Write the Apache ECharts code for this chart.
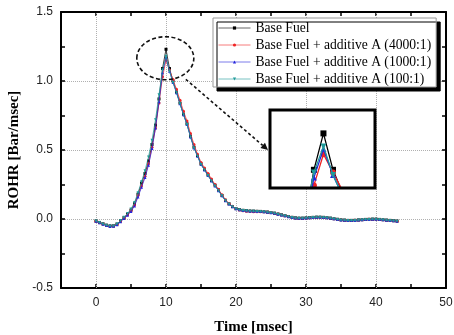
<!DOCTYPE html>
<html>
<head>
<meta charset="utf-8">
<script src="https://cdn.jsdelivr.net/npm/echarts@6.0.0/dist/echarts.min.js"></script>
<style>
  html, body { margin: 0; padding: 0; background: #fff; }
  #chart { width: 454px; height: 335px; }
</style>
</head>
<body>
<div id="chart"></div>
<script>
// time axis [msec]
const time = [
  0, 0.5, 1, 1.5, 2, 2.5, 3, 3.5, 4, 4.5, 5, 5.5, 6, 6.5, 7, 7.5, 8, 8.5, 9, 9.5,
  10, 10.5, 11, 11.5, 12, 12.5, 13, 13.5, 14, 14.5, 15, 15.5, 16, 16.5, 17, 17.5, 18, 18.5, 19, 19.5,
  20, 20.5, 21, 21.5, 22, 22.5, 23, 23.5, 24, 24.5, 25, 25.5, 26, 26.5, 27, 27.5, 28, 28.5, 29, 29.5,
  30, 30.5, 31, 31.5, 32, 32.5, 33, 33.5, 34, 34.5, 35, 35.5, 36, 36.5, 37, 37.5, 38, 38.5, 39, 39.5,
  40, 40.5, 41, 41.5, 42, 42.5, 43
]

// ROHR [Bar/msec]
const baseFuel = [
  -0.015, -0.025, -0.035, -0.045, -0.05, -0.05, -0.037, -0.014, 0.01, 0.035, 0.065, 0.11, 0.18, 0.26, 0.33, 0.42, 0.54, 0.68, 0.87, 1.09,
  1.23, 1.09, 1.0, 0.92, 0.84, 0.76, 0.69, 0.60, 0.52, 0.46, 0.40, 0.36, 0.32, 0.28, 0.245, 0.21, 0.17, 0.135, 0.11, 0.09,
  0.075, 0.068, 0.063, 0.06, 0.058, 0.057, 0.056, 0.055, 0.053, 0.05, 0.047, 0.042, 0.036, 0.03, 0.024, 0.018, 0.012, 0.008, 0.006, 0.006,
  0.008, 0.01, 0.012, 0.013, 0.013, 0.012, 0.01, 0.006, 0.002, -0.002, -0.006, -0.008, -0.01, -0.01, -0.009, -0.007, -0.005, -0.003, -0.002, -0.001,
  -0.001, -0.003, -0.005, -0.008, -0.01, -0.012, -0.015
]
const additive4000 = [
  -0.016, -0.027, -0.037, -0.046, -0.052, -0.051, -0.04, -0.017, 0.006, 0.03, 0.06, 0.1, 0.17, 0.24, 0.31, 0.40, 0.52, 0.66, 0.84, 1.03,
  1.15, 1.08, 1.01, 0.94, 0.86, 0.78, 0.71, 0.62, 0.54, 0.47, 0.41, 0.37, 0.33, 0.29, 0.25, 0.215, 0.175, 0.14, 0.112, 0.092,
  0.076, 0.066, 0.06, 0.056, 0.054, 0.053, 0.053, 0.053, 0.052, 0.05, 0.047, 0.042, 0.036, 0.03, 0.024, 0.018, 0.012, 0.008, 0.005, 0.005,
  0.007, 0.009, 0.011, 0.012, 0.012, 0.011, 0.009, 0.005, 0.001, -0.003, -0.006, -0.009, -0.01, -0.01, -0.009, -0.007, -0.005, -0.003, -0.002, -0.001,
  -0.002, -0.004, -0.006, -0.009, -0.011, -0.013, -0.016
]
const additive1000 = [
  -0.017, -0.028, -0.038, -0.048, -0.054, -0.053, -0.042, -0.02, 0.003, 0.027, 0.055, 0.095, 0.16, 0.23, 0.30, 0.39, 0.51, 0.66, 0.85, 1.06,
  1.17, 1.07, 0.99, 0.915, 0.835, 0.755, 0.685, 0.595, 0.515, 0.455, 0.395, 0.355, 0.315, 0.275, 0.24, 0.205, 0.168, 0.133, 0.108, 0.089,
  0.075, 0.067, 0.062, 0.059, 0.057, 0.056, 0.055, 0.054, 0.052, 0.049, 0.046, 0.041, 0.035, 0.029, 0.023, 0.017, 0.011, 0.007, 0.005, 0.005,
  0.007, 0.009, 0.011, 0.012, 0.012, 0.011, 0.009, 0.005, 0.001, -0.003, -0.007, -0.009, -0.011, -0.011, -0.01, -0.008, -0.006, -0.004, -0.003, -0.002,
  -0.002, -0.004, -0.006, -0.009, -0.011, -0.013, -0.016
]
const additive100 = [
  -0.015, -0.026, -0.036, -0.046, -0.051, -0.05, -0.036, -0.012, 0.013, 0.04, 0.072, 0.12, 0.19, 0.27, 0.35, 0.45, 0.57, 0.72, 0.90, 1.08,
  1.18, 1.07, 0.99, 0.915, 0.835, 0.755, 0.685, 0.595, 0.515, 0.455, 0.395, 0.355, 0.315, 0.275, 0.24, 0.205, 0.168, 0.133, 0.108, 0.089,
  0.075, 0.067, 0.062, 0.059, 0.057, 0.056, 0.055, 0.054, 0.052, 0.049, 0.046, 0.041, 0.035, 0.029, 0.023, 0.017, 0.011, 0.007, 0.005, 0.005,
  0.007, 0.009, 0.011, 0.012, 0.012, 0.011, 0.009, 0.005, 0.001, -0.003, -0.007, -0.009, -0.011, -0.011, -0.01, -0.008, -0.006, -0.004, -0.003, -0.002,
  -0.002, -0.004, -0.006, -0.009, -0.011, -0.013, -0.016
]

const seriesNames = [
  'Base Fuel',
  'Base Fuel + additive A (4000:1)',
  'Base Fuel + additive A (1000:1)',
  'Base Fuel + additive A (100:1)'
]
const seriesValues = [baseFuel, additive4000, additive1000, additive100]
const seriesColors = ['#000000', '#f02424', '#2424dc', '#1f9a9a']
const seriesSymbols = ['rect', 'circle', 'triangle', 'path://M0,0L10,0L5,9Z']

const xLabelValues = [0, 10, 20, 30, 40, 50]
const xGridValues = [0, 10, 20, 30, 40]

// inset position (pixels)
const inset = { left: 270, top: 110, width: 105, height: 78 }

const chart = echarts.init(document.getElementById('chart'))

const pairs = vals => time.map((t, i) => [t, vals[i]])

const mainSeries = seriesNames.map((name, i) => ({
  name,
  type: 'line',
  xAxisIndex: 0,
  yAxisIndex: 0,
  data: pairs(seriesValues[i]),
  symbol: seriesSymbols[i],
  symbolSize: 3,
  color: seriesColors[i],
  lineStyle: { width: 1, color: seriesColors[i], opacity: 0.75 },
  itemStyle: { color: seriesColors[i] },
  z: 3 + i,
  animation: false,
  markLine: i === 0 ? {
    silent: true,
    symbol: ['none', 'none'],
    label: { show: false },
    lineStyle: { type: 'dotted', color: '#b0b0b0', width: 1, opacity: 1 },
    data: xGridValues.map(v => ({ xAxis: v })),
    z: 1,
    animation: false
  } : undefined
}))

const insetSeries = seriesNames.map((name, i) => ({
  name,
  type: 'line',
  xAxisIndex: 2,
  yAxisIndex: 2,
  data: pairs(seriesValues[i]),
  symbol: seriesSymbols[i],
  symbolSize: 6,
  color: seriesColors[i],
  lineStyle: { width: 1.3, color: seriesColors[i] },
  itemStyle: { color: seriesColors[i] },
  clip: true,
  z: 12 + i,
  animation: false
}))

const tickFont = { fontFamily: 'Liberation Sans', fontSize: 12, color: '#222' }
const nameFont = { fontFamily: 'Liberation Serif', fontSize: 15, fontWeight: 'bold', color: '#000' }
const axisLine = { show: true, onZero: false, lineStyle: { color: '#000', width: 2 } }

const option = {
  animation: false,
  backgroundColor: '#fff',
  grid: [
    { left: 61, top: 12, right: 8, bottom: 47, outerBoundsMode: 'none', containLabel: false },
    { left: inset.left, top: inset.top, width: inset.width, height: inset.height, outerBoundsMode: 'none', containLabel: false }
  ],
  legend: {
    orient: 'vertical',
    left: 213,
    top: 18,
    padding: [3, 5, 1, 5],
    itemGap: 3,
    itemWidth: 32,
    itemHeight: 4,
    data: seriesNames,
    backgroundColor: '#fff',
    borderColor: '#999',
    borderWidth: 1,
    shadowColor: '#000',
    shadowBlur: 0,
    shadowOffsetX: 4,
    shadowOffsetY: 4,
    lineStyle: { width: 1, opacity: 0.6 },
    textStyle: { fontFamily: 'Liberation Serif', fontSize: 13.6, color: '#000' }
  },
  xAxis: [
    {
      type: 'value', gridIndex: 0, position: 'bottom',
      min: -5, max: 50, interval: 5,
      name: 'Time [msec]', nameLocation: 'middle', nameGap: 32, nameTextStyle: nameFont,
      axisLine,
      axisTick: { inside: true, length: 4, lineStyle: { color: '#000', width: 1.5 } },
      axisLabel: {
        ...tickFont, margin: 9,
        formatter: v => xLabelValues.includes(v) ? String(v) : ''
      },
      splitLine: { show: false }
    },
    {
      type: 'value', gridIndex: 0, position: 'top',
      min: -5, max: 50, interval: 5,
      axisLine,
      axisTick: { inside: true, length: 4, lineStyle: { color: '#000', width: 1.5 } },
      axisLabel: { show: false },
      splitLine: { show: false }
    },
    {
      type: 'value', gridIndex: 1, min: 7.2, max: 12.7, show: false
    }
  ],
  yAxis: [
    {
      type: 'value', gridIndex: 0, position: 'left',
      min: -0.5, max: 1.5, interval: 0.5,
      name: 'ROHR [Bar/msec]', nameLocation: 'middle', nameGap: 33, nameTextStyle: nameFont,
      axisLine,
      axisTick: { inside: true, length: 4, lineStyle: { color: '#000', width: 1.5 } },
      minorTick: { show: true, splitNumber: 2, length: 4, lineStyle: { color: '#000', width: 1.5 } },
      axisLabel: { ...tickFont, margin: 8, formatter: v => v.toFixed(1) },
      splitLine: { show: true, lineStyle: { type: 'dotted', color: '#b0b0b0', width: 1 } }
    },
    {
      type: 'value', gridIndex: 0, position: 'right',
      min: -0.5, max: 1.5, interval: 0.25,
      axisLine,
      axisTick: { inside: true, length: 4, lineStyle: { color: '#000', width: 1.5 } },
      axisLabel: { show: false },
      splitLine: { show: false }
    },
    {
      type: 'value', gridIndex: 1, min: 1.02, max: 1.32, show: false
    }
  ],
  series: [...mainSeries, ...insetSeries]
}

chart.setOption(option)

// annotations: dashed ellipse around the peak, arrow to the inset box
const c = chart.convertToPixel({ xAxisIndex: 0, yAxisIndex: 0 }, [9.9, 1.165])
const rx = 28.5, ry = 21.5
const a0 = [c[0] + rx * 0.72, c[1] + ry * 0.98]
const a1 = [inset.left - 2, inset.top + 40]
const ang = Math.atan2(a1[1] - a0[1], a1[0] - a0[0])
const hl = 7, hw = 3.5
const head = [
  a1,
  [a1[0] - hl * Math.cos(ang) + hw * Math.sin(ang), a1[1] - hl * Math.sin(ang) - hw * Math.cos(ang)],
  [a1[0] - hl * Math.cos(ang) - hw * Math.sin(ang), a1[1] - hl * Math.sin(ang) + hw * Math.cos(ang)]
]

chart.setOption({
  graphic: [
    {
      type: 'rect', z: 8, silent: true,
      shape: { x: inset.left, y: inset.top, width: inset.width, height: inset.height },
      style: { fill: '#fff', stroke: 'none' }
    },
    {
      type: 'rect', z: 20, silent: true,
      shape: { x: inset.left, y: inset.top, width: inset.width, height: inset.height },
      style: { fill: 'none', stroke: '#000', lineWidth: 3 }
    },
    {
      type: 'ellipse', z: 20, silent: true,
      shape: { cx: c[0], cy: c[1], rx, ry },
      style: { fill: 'none', stroke: '#111', lineWidth: 1.6, lineDash: [4, 2.5] }
    },
    {
      type: 'line', z: 20, silent: true,
      shape: { x1: a0[0], y1: a0[1], x2: a1[0] - hl * Math.cos(ang), y2: a1[1] - hl * Math.sin(ang) },
      style: { stroke: '#111', lineWidth: 1.6, lineDash: [3, 2.5] }
    },
    {
      type: 'polygon', z: 20, silent: true,
      shape: { points: head },
      style: { fill: '#111', stroke: 'none' }
    }
  ]
})
</script>
</body>
</html>
